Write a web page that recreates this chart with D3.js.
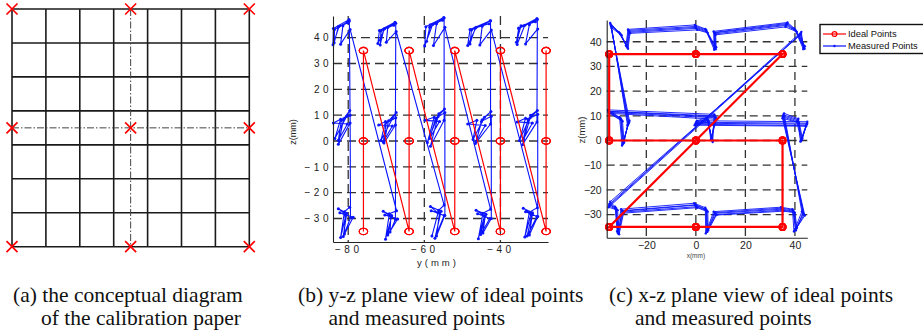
<!DOCTYPE html>
<html>
<head>
<meta charset="utf-8">
<script src="https://cdn.jsdelivr.net/npm/d3@7"></script>
<style>
  html, body { margin: 0; padding: 0; background: #fff; }
  svg { display: block; }
</style>
</head>
<body>
<svg id="chart" width="923" height="336"></svg>
<script>
// (a) calibration paper, positions in mm
const paperLines = [-35, -25, -15, -5, 5, 15, 25, 35];
const paperMarks = [-35, 0, 35];

// ideal points: 5 positions of the paper along y, 3x3 points in x-z (visit order)
const planeY = [-76, -64, -52, -40, -28];
const gridOrderXZ = [[-35, -35], [0, -35], [35, -35], [35, 0], [0, 0], [-35, 0], [-35, 35], [0, 35], [35, 35]];

// measured points [x, y, z], read off the two views, one array per paper position
// (4 samples around each grid point)
const measuredPlane1 = [
	[-34.8, -79.6, -25.6], [-32.2, -81.0, -27.4], [-31.5, -82.0, -37.4], [-29.6, -80.6, -28.6],
	[-0.3, -82.6, -26.2], [4.2, -80.4, -28.0], [4.6, -81.3, -37.0], [7.8, -78.7, -29.5],
	[34.7, -82.2, -27.8], [39.4, -80.8, -28.6], [40.2, -81.0, -36.0], [43.4, -79.4, -29.6],
	[35.3, -79.5, 10.0], [41.0, -81.8, 8.0], [42.7, -82.6, 0.3], [44.8, -80.2, 6.6],
	[0.0, -83.9, 7.0], [4.8, -82.0, 8.4], [6.4, -83.5, 1.0], [7.8, -80.4, 9.6],
	[-35.3, -79.6, 11.8], [-30.2, -81.2, 8.6], [-29.4, -82.6, -1.3], [-27.2, -79.5, 7.0],
	[-34.3, -79.7, 46.5], [-30.6, -83.6, 43.2], [-27.8, -83.7, 38.0], [-27.0, -82.6, 44.2],
	[0.0, -80.0, 45.8], [4.2, -82.4, 44.4], [7.8, -84.0, 37.3], [7.6, -83.9, 43.6],
	[36.7, -79.8, 47.0], [40.2, -81.4, 44.6], [43.7, -82.0, 37.5], [42.4, -79.5, 43.2]
];
const measuredPlane2 = [
	[-35.2, -67.3, -27.0], [-31.6, -69.2, -28.2], [-31.0, -70.2, -38.0], [-29.2, -68.6, -29.4],
	[0.5, -70.8, -27.2], [4.8, -68.6, -28.8], [5.0, -69.6, -36.4], [8.3, -67.0, -30.2],
	[35.3, -70.4, -28.6], [40.0, -68.8, -29.2], [40.8, -69.0, -35.2], [44.0, -67.6, -30.4],
	[35.0, -67.5, 9.0], [41.6, -70.0, 7.2], [42.2, -70.8, -0.4], [44.4, -68.4, 5.8],
	[-0.5, -72.0, 6.2], [5.2, -70.2, 7.6], [6.0, -71.4, 0.2], [8.4, -68.4, 8.6],
	[-35.0, -67.4, 11.0], [-29.6, -69.4, 7.8], [-29.0, -70.6, -0.8], [-27.6, -67.6, 6.2],
	[-34.0, -67.5, 45.6], [-30.0, -71.4, 42.6], [-27.4, -71.6, 37.2], [-26.6, -70.6, 43.4],
	[0.6, -68.0, 44.8], [4.8, -70.4, 43.6], [8.2, -72.2, 37.8], [8.0, -71.8, 42.8],
	[36.2, -67.7, 46.0], [40.8, -69.6, 44.0], [44.0, -70.0, 38.2], [41.8, -67.4, 42.4]
];
const measuredPlane3 = [
	[-34.6, -54.8, -24.8], [-32.6, -56.2, -26.8], [-31.8, -58.0, -36.8], [-30.2, -56.4, -27.8],
	[-0.7, -58.4, -25.4], [3.8, -55.6, -27.2], [4.0, -57.2, -37.6], [7.2, -54.8, -28.8],
	[34.4, -58.2, -27.0], [39.0, -56.0, -27.8], [39.6, -56.8, -36.8], [42.8, -54.6, -28.8],
	[35.6, -54.6, 11.0], [41.4, -57.0, 8.8], [43.0, -58.6, 1.0], [45.0, -56.0, 7.6],
	[0.4, -59.8, 8.0], [4.4, -57.4, 9.2], [6.8, -59.2, -0.6], [7.4, -56.2, 10.6],
	[-35.5, -54.7, 12.4], [-30.8, -56.4, 9.4], [-29.8, -58.4, -2.0], [-26.8, -54.8, 8.0],
	[-34.6, -54.8, 47.6], [-31.2, -58.6, 44.0], [-28.2, -59.4, 38.6], [-27.4, -58.4, 45.0],
	[-0.4, -55.2, 46.8], [3.8, -57.8, 45.2], [7.4, -59.9, 36.8], [7.2, -59.6, 44.2],
	[37.0, -54.9, 47.8], [39.8, -56.8, 45.4], [43.4, -57.6, 37.0], [42.6, -54.6, 44.0]
];
const measuredPlane4 = [
	[-35.0, -42.6, -26.4], [-32.0, -44.6, -28.0], [-31.2, -45.8, -37.8], [-29.4, -44.2, -29.0],
	[0.2, -46.4, -26.8], [4.4, -43.8, -28.4], [4.8, -45.2, -36.2], [8.1, -42.8, -30.0],
	[35.1, -46.0, -28.2], [39.6, -44.0, -29.0], [40.6, -44.6, -35.6], [43.7, -42.4, -30.0],
	[35.1, -42.4, 9.6], [40.8, -45.0, 7.6], [42.5, -46.4, -0.2], [44.6, -44.0, 6.0],
	[-0.2, -48.6, 6.6], [5.0, -46.2, 8.0], [6.2, -47.2, 0.6], [8.1, -44.2, 9.2],
	[-35.1, -42.5, 11.4], [-30.0, -44.8, 8.2], [-29.2, -46.6, -1.0], [-27.4, -42.6, 6.6],
	[-34.2, -42.6, 46.6], [-30.4, -47.6, 43.0], [-27.6, -48.0, 37.6], [-26.8, -46.6, 43.8],
	[0.2, -43.0, 45.4], [4.4, -46.4, 44.0], [8.0, -48.6, 37.0], [7.8, -48.0, 43.2],
	[36.4, -42.7, 46.6], [40.4, -44.8, 44.4], [43.9, -45.4, 37.2], [42.2, -42.4, 43.0]
];
const measuredPlane5 = [
	[-34.9, -30.3, -25.8], [-32.4, -32.4, -27.6], [-31.4, -33.6, -37.2], [-29.8, -32.0, -28.4],
	[-0.1, -34.0, -26.0], [4.0, -31.6, -27.8], [4.4, -33.0, -36.8], [7.6, -30.4, -29.2],
	[34.8, -33.4, -27.4], [39.2, -31.6, -28.2], [40.4, -32.4, -36.4], [43.2, -30.2, -29.2],
	[35.4, -30.2, 10.4], [41.2, -32.8, 8.4], [42.9, -34.0, 0.6], [44.9, -31.6, 7.0],
	[0.1, -35.6, 7.4], [4.6, -33.4, 8.8], [6.6, -35.0, 0.2], [7.6, -32.0, 10.0],
	[-35.2, -30.3, 11.8], [-30.4, -32.2, 9.0], [-29.6, -34.2, -1.4], [-27.0, -30.4, 7.4],
	[-34.4, -30.3, 47.0], [-30.8, -35.2, 43.6], [-28.0, -35.8, 38.2], [-27.2, -34.6, 44.6],
	[0.0, -30.8, 46.2], [4.2, -33.6, 44.8], [7.6, -35.6, 37.4], [7.4, -35.2, 43.8],
	[36.8, -30.4, 47.4], [40.0, -32.4, 45.0], [43.6, -33.4, 37.6], [42.2, -30.2, 43.4]
];

// tick values
const yzHTicks = [-80, -60, -40];
const yzVTicks = [-30, -20, -10, 0, 10, 20, 30, 40];
const xzHTicks = [-20, 0, 20, 40];
const xzVTicks = [-30, -20, -10, 0, 10, 20, 30, 40];

const legendLabels = ['Ideal Points', 'Measured Points'];
const captions = [
	['(a) the conceptual diagram', 'of the calibration paper'],
	['(b) y-z plane view of ideal points', 'and measured points'],
	['(c) x-z plane view of ideal points', 'and measured points']
];

const RED = '#ff0000';
const BLUE = '#0a14ff';

const ideal = planeY.flatMap(y => gridOrderXZ.map(([x, z]) => ({ x, y, z })));
const measured = [measuredPlane1, measuredPlane2, measuredPlane3, measuredPlane4, measuredPlane5]
	.flat()
	.map(([x, y, z]) => ({ x, y, z }));

const svg = d3.select('#chart');

// ---------- (a) conceptual diagram ----------
const pa = svg.append('g');
const ax = d3.scaleLinear().domain([-35, 35]).range([12, 249.3]);
const az = d3.scaleLinear().domain([35, -35]).range([9, 246.7]);

pa.selectAll('line.v').data(paperLines).join('line')
	.attr('x1', d => ax(d)).attr('x2', d => ax(d))
	.attr('y1', az(35)).attr('y2', az(-35))
	.attr('stroke', '#1a1a1a').attr('stroke-width', 1.6);
pa.selectAll('line.h').data(paperLines).join('line')
	.attr('y1', d => az(d)).attr('y2', d => az(d))
	.attr('x1', ax(-35)).attr('x2', ax(35))
	.attr('stroke', '#1a1a1a').attr('stroke-width', 1.6);

// centre dash-dot lines
pa.append('line')
	.attr('x1', ax(0)).attr('x2', ax(0)).attr('y1', az(35)).attr('y2', az(-35))
	.attr('stroke', '#444').attr('stroke-width', 1).attr('stroke-dasharray', '7,2,1.5,2');
pa.append('line')
	.attr('y1', az(0)).attr('y2', az(0)).attr('x1', ax(-35)).attr('x2', ax(35))
	.attr('stroke', '#444').attr('stroke-width', 1).attr('stroke-dasharray', '7,2,1.5,2');

const markPts = paperMarks.flatMap(mx => paperMarks.map(mz => [mx, mz]));
const s = 5.5;
pa.selectAll('path.mark').data(markPts).join('path')
	.attr('d', ([mx, mz]) => {
		const cx = ax(mx), cy = az(mz);
		return `M${cx - s},${cy - s}L${cx + s},${cy + s}M${cx - s},${cy + s}L${cx + s},${cy - s}`;
	})
	.attr('stroke', RED).attr('stroke-width', 1.7).attr('fill', 'none');

// ---------- shared drawing for the two views ----------
function drawView(cfg) {
	const g = svg.append('g');
	const h = cfg.hScale, v = cfg.vScale;
	const [hx0, hx1] = h.range();
	const [vy0, vy1] = v.range();

	// dashed grid
	g.selectAll('line.hg').data(cfg.vTicks).join('line')
		.attr('x1', hx0).attr('x2', hx1)
		.attr('y1', d => v(d)).attr('y2', d => v(d))
		.attr('stroke', '#333').attr('stroke-width', 1.3).attr('stroke-dasharray', cfg.dash);
	g.selectAll('line.vg').data(cfg.hTicks).join('line')
		.attr('x1', d => h(d)).attr('x2', d => h(d))
		.attr('y1', vy1).attr('y2', vy0)
		.attr('stroke', '#333').attr('stroke-width', 1.3).attr('stroke-dasharray', cfg.dash);

	// measured
	const line = d3.line().x(d => h(d[cfg.hKey])).y(d => v(d.z));
	g.append('path').datum(measured)
		.attr('d', line).attr('fill', 'none')
		.attr('stroke', BLUE).attr('stroke-width', cfg.blueWidth).attr('stroke-linejoin', 'round');
	g.selectAll('circle.m').data(measured).join('circle')
		.attr('cx', d => h(d[cfg.hKey])).attr('cy', d => v(d.z))
		.attr('r', cfg.dotR).attr('fill', BLUE);

	// ideal
	g.append('path').datum(ideal)
		.attr('d', line).attr('fill', 'none')
		.attr('stroke', RED).attr('stroke-width', cfg.redWidth);
	g.selectAll('ellipse.i').data(ideal).join('ellipse')
		.attr('cx', d => h(d[cfg.hKey])).attr('cy', d => v(d.z))
		.attr('rx', cfg.markRx).attr('ry', cfg.markRy)
		.attr('fill', 'none').attr('stroke', RED).attr('stroke-width', cfg.markWidth);

	// axes
	const left = g.append('g')
		.attr('transform', `translate(${hx0},0)`)
		.call(d3.axisLeft(v).tickValues(cfg.vTicks).tickSize(0).tickSizeOuter(0).tickPadding(cfg.padLeft));
	const bottom = g.append('g')
		.attr('transform', `translate(0,${vy0})`)
		.call(d3.axisBottom(h).tickValues(cfg.hTicks).tickSize(0).tickSizeOuter(0).tickPadding(cfg.padBottom));
	[left, bottom].forEach(a => {
		a.attr('font-family', 'Arial, "Liberation Sans", sans-serif')
			.attr('font-size', cfg.tickSize);
		a.select('.domain').attr('stroke', '#222').attr('stroke-width', 1.1);
		a.selectAll('text').attr('fill', '#222').style('letter-spacing', cfg.spacing + 'px');
	});
	return g;
}

// ---------- (b) y-z view ----------
const yB = d3.scaleLinear().domain([-84, -27.5]).range([333, 548]);
const zB = d3.scaleLinear().domain([-39.1, 48.4]).range([242, 16]);
const gB = drawView({
	hScale: yB, vScale: zB, hKey: 'y',
	hTicks: yzHTicks, vTicks: yzVTicks,
	dash: '9,5', blueWidth: 1.1, redWidth: 1.2, dotR: 1.5,
	markRx: 4.2, markRy: 3.2, markWidth: 1.1,
	tickSize: 10, spacing: 3.5, padLeft: 1, padBottom: 4
});
gB.append('text')
	.attr('x', 438).attr('y', 266)
	.attr('text-anchor', 'middle')
	.attr('font-family', 'Arial, "Liberation Sans", sans-serif')
	.attr('font-size', 9.5).style('letter-spacing', '3px')
	.attr('fill', '#222').text('y(mm)');
gB.append('text')
	.attr('transform', 'translate(296,132) rotate(-90)')
	.attr('text-anchor', 'middle')
	.attr('font-family', 'Arial, "Liberation Sans", sans-serif')
	.attr('font-size', 9).attr('fill', '#222').text('z(mm)');

// ---------- (c) x-z view ----------
const xC = d3.scaleLinear().domain([-36, 45]).range([606.7, 807.3]);
const zC = d3.scaleLinear().domain([-39.35, 48.8]).range([237.7, 20]);
const gC = drawView({
	hScale: xC, vScale: zC, hKey: 'x',
	hTicks: xzHTicks, vTicks: xzVTicks,
	dash: '8,5', blueWidth: 0.9, redWidth: 2.2, dotR: 1.2,
	markRx: 3, markRy: 3, markWidth: 1.8,
	tickSize: 10.5, spacing: 0, padLeft: 5, padBottom: 4
});
gC.append('text')
	.attr('x', xC(0)).attr('y', 258)
	.attr('text-anchor', 'middle')
	.attr('font-family', 'Arial, "Liberation Sans", sans-serif')
	.attr('font-size', 6.5).attr('fill', '#444').text('x(mm)');
gC.append('text')
	.attr('transform', 'translate(585,130) rotate(-90)')
	.attr('text-anchor', 'middle')
	.attr('font-family', 'Arial, "Liberation Sans", sans-serif')
	.attr('font-size', 9.5).attr('fill', '#222').text('z(mm)');

// legend
const lg = svg.append('g').attr('transform', 'translate(820,24.5)');
lg.append('rect')
	.attr('width', 108).attr('height', 29)
	.attr('fill', '#fff').attr('stroke', '#111').attr('stroke-width', 1.4);
const items = lg.selectAll('g.item').data(legendLabels).join('g')
	.attr('transform', (d, i) => `translate(0,${9.5 + i * 12})`);
items.append('line')
	.attr('x1', 3).attr('x2', 26)
	.attr('stroke', (d, i) => i === 0 ? RED : BLUE).attr('stroke-width', 1.2);
items.filter((d, i) => i === 0).append('circle')
	.attr('cx', 14.5).attr('r', 2.4).attr('fill', 'none').attr('stroke', RED).attr('stroke-width', 1.3);
items.filter((d, i) => i === 1).append('circle')
	.attr('cx', 14.5).attr('r', 1.2).attr('fill', BLUE);
items.append('text')
	.attr('x', 28).attr('dy', '0.35em')
	.attr('font-family', 'Arial, "Liberation Sans", sans-serif')
	.attr('font-size', 9.3).attr('fill', '#111')
	.text(d => d);

// captions
const capPos = [[13, 41], [298, 328.5], [609, 635]];
const cap = svg.append('g')
	.attr('font-family', '"Liberation Serif", "Times New Roman", serif')
	.attr('font-size', 21.5).attr('fill', '#111');
captions.forEach((lines, i) => {
	lines.forEach((t, j) => {
		cap.append('text')
			.attr('x', capPos[i][j]).attr('y', 302 + j * 23)
			.text(t);
	});
});
</script>
</body>
</html>
